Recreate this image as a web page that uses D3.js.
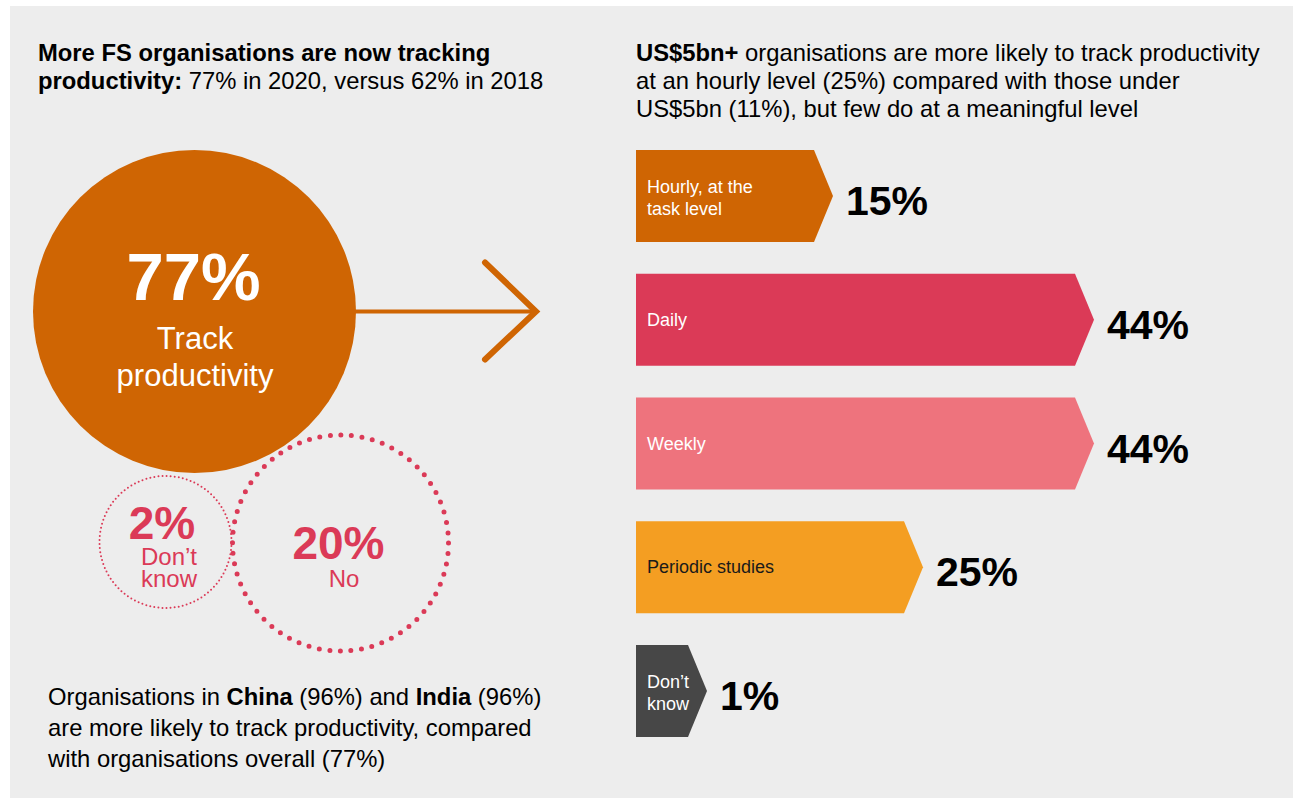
<!DOCTYPE html>
<html>
<head>
<meta charset="utf-8">
<script src="https://cdn.jsdelivr.net/npm/d3@7"></script>
<style>
  html, body { margin: 0; padding: 0; background: #ffffff; }
  svg { display: block; font-family: "Liberation Sans", Arial, Helvetica, sans-serif; }
</style>
</head>
<body>
<svg id="chart" width="1299" height="798"></svg>
<script>
// ---------------- DATA ----------------
const trackCategories = ["Track productivity", "No", "Don’t know"];
const trackValues = [77, 20, 2];
const trackLabelLines = [["Track", "productivity"], ["No"], ["Don’t", "know"]];

const barCategories = ["Hourly, at the task level", "Daily", "Weekly", "Periodic studies", "Don’t know"];
const barValues = [15, 44, 44, 25, 1];
const barLabelLines = [["Hourly, at the", "task level"], ["Daily"], ["Weekly"], ["Periodic studies"], ["Don’t", "know"]];
const barColors = ["#CF6503", "#DB3A57", "#EE737D", "#F49E22", "#474747"];
const barTextColors = ["#ffffff", "#ffffff", "#ffffff", "#1a1a1a", "#ffffff"];

const leftTitleBold = "More FS organisations are now tracking";
const leftTitleBold2 = "productivity:";
const leftTitleRest2 = " 77% in 2020, versus 62% in 2018";
const rightTitleBold = "US$5bn+";
const rightTitleLines = [" organisations are more likely to track productivity",
  "at an hourly level (25%) compared with those under",
  "US$5bn (11%), but few do at a meaningful level"];
const footnoteParts = [
  [["Organisations in ", false], ["China", true], [" (96%) and ", false], ["India", true], [" (96%)", false]],
  [["are more likely to track productivity, compared", false]],
  [["with organisations overall (77%)", false]]
];

// ---------------- DRAW ----------------
const svg = d3.select("#chart");
const fmt = v => v + "%";
const bodySize = 23.8;

svg.append("rect").attr("x", 10).attr("y", 6).attr("width", 1283).attr("height", 792).attr("fill", "#EDEDED");

// Left title
const lt = svg.append("text").attr("x", 38).attr("y", 61).attr("font-size", bodySize).attr("fill", "#000");
lt.append("tspan").attr("font-weight", "bold").text(leftTitleBold);
const lt2 = svg.append("text").attr("x", 38).attr("y", 89).attr("font-size", bodySize).attr("fill", "#000");
lt2.append("tspan").attr("font-weight", "bold").text(leftTitleBold2);
lt2.append("tspan").text(leftTitleRest2);

// Right title
rightTitleLines.forEach((line, i) => {
  const t = svg.append("text").attr("x", 636).attr("y", 61 + i * 28).attr("font-size", bodySize).attr("fill", "#000");
  if (i === 0) t.append("tspan").attr("font-weight", "bold").text(rightTitleBold);
  t.append("tspan").text(line);
});

// Circles
const rScale = d3.scaleSqrt().domain([0, 77]).range([0, 161.5]);
const circleCenters = [[194.5, 311.5], [340.5, 543], [165.5, 542]];
svg.append("circle").attr("cx", circleCenters[0][0]).attr("cy", circleCenters[0][1])
  .attr("r", rScale(trackValues[0])).attr("fill", "#CF6503");

const dottedR = [108, 66];
const dotW = [5, 2];
const dotGap = [10.6, 4.1];
[1, 2].forEach((k, j) => {
  svg.append("circle").attr("cx", circleCenters[k][0]).attr("cy", circleCenters[k][1])
    .attr("r", dottedR[j]).attr("fill", "none").attr("stroke", "#DB3A57")
    .attr("stroke-width", dotW[j]).attr("stroke-linecap", "round")
    .attr("stroke-dasharray", "0 " + dotGap[j]);
});

// big circle labels
svg.append("text").attr("x", 193.5).attr("y", 300).attr("text-anchor", "middle")
  .attr("font-size", 67).attr("font-weight", "bold").attr("fill", "#fff").text(fmt(trackValues[0]));
trackLabelLines[0].forEach((l, i) => {
  svg.append("text").attr("x", 195).attr("y", 349 + i * 37).attr("text-anchor", "middle")
    .attr("font-size", 31).attr("fill", "#fff").text(l);
});

// No
svg.append("text").attr("x", 338.5).attr("y", 559).attr("text-anchor", "middle")
  .attr("font-size", 46).attr("font-weight", "bold").attr("fill", "#DB3A57").text(fmt(trackValues[1]));
svg.append("text").attr("x", 344).attr("y", 587).attr("text-anchor", "middle")
  .attr("font-size", 24).attr("fill", "#DB3A57").text(trackLabelLines[1][0]);
// Don't know
svg.append("text").attr("x", 162).attr("y", 539).attr("text-anchor", "middle")
  .attr("font-size", 46).attr("font-weight", "bold").attr("fill", "#DB3A57").text(fmt(trackValues[2]));
trackLabelLines[2].forEach((l, i) => {
  svg.append("text").attr("x", 169).attr("y", 565 + i * 22).attr("text-anchor", "middle")
    .attr("font-size", 24).attr("fill", "#DB3A57").text(l);
});

// Arrow
const arrowY = circleCenters[0][1];
svg.append("line").attr("x1", 350).attr("x2", 534).attr("y1", arrowY).attr("y2", arrowY)
  .attr("stroke", "#CF6503").attr("stroke-width", 4);
svg.append("path").attr("d", d3.line()([[485, arrowY - 49], [536, arrowY], [485, arrowY + 48]]))
  .attr("fill", "none").attr("stroke", "#CF6503").attr("stroke-width", 6)
  .attr("stroke-linecap", "round").attr("stroke-linejoin", "miter");

// Bars
const barLeft = 636;
const tipLen = 19;
const x = d3.scaleLinear().domain([0, 44]).range([62, 458]);
const y = d3.scaleBand().domain(barCategories).range([150, 737]).paddingInner(0.2566).paddingOuter(0);

const g = svg.append("g");
barCategories.forEach((c, i) => {
  const top = y(c), bh = y.bandwidth(), bot = top + bh, cy = top + bh / 2;
  const xt = barLeft + x(barValues[i]);
  const xs = xt - tipLen;
  const p = d3.path();
  p.moveTo(barLeft, top); p.lineTo(xs, top); p.lineTo(xt, cy); p.lineTo(xs, bot); p.lineTo(barLeft, bot); p.closePath();
  g.append("path").attr("d", p.toString()).attr("fill", barColors[i]);

  const lines = barLabelLines[i];
  lines.forEach((l, j) => {
    const by = lines.length === 1 ? cy + 6 : cy - 3 + j * 22;
    g.append("text").attr("x", 647).attr("y", by).attr("font-size", 18)
      .attr("fill", barTextColors[i]).text(l);
  });

  g.append("text").attr("x", xt + 13).attr("y", cy + 19).attr("font-size", 41)
    .attr("font-weight", "bold").attr("fill", "#000").text(fmt(barValues[i]));
});

// Footnote
footnoteParts.forEach((parts, i) => {
  const t = svg.append("text").attr("x", 48).attr("y", 705 + i * 31).attr("font-size", bodySize).attr("fill", "#000");
  parts.forEach(([s, b]) => t.append("tspan").attr("font-weight", b ? "bold" : "normal").text(s));
});
</script>
</body>
</html>
